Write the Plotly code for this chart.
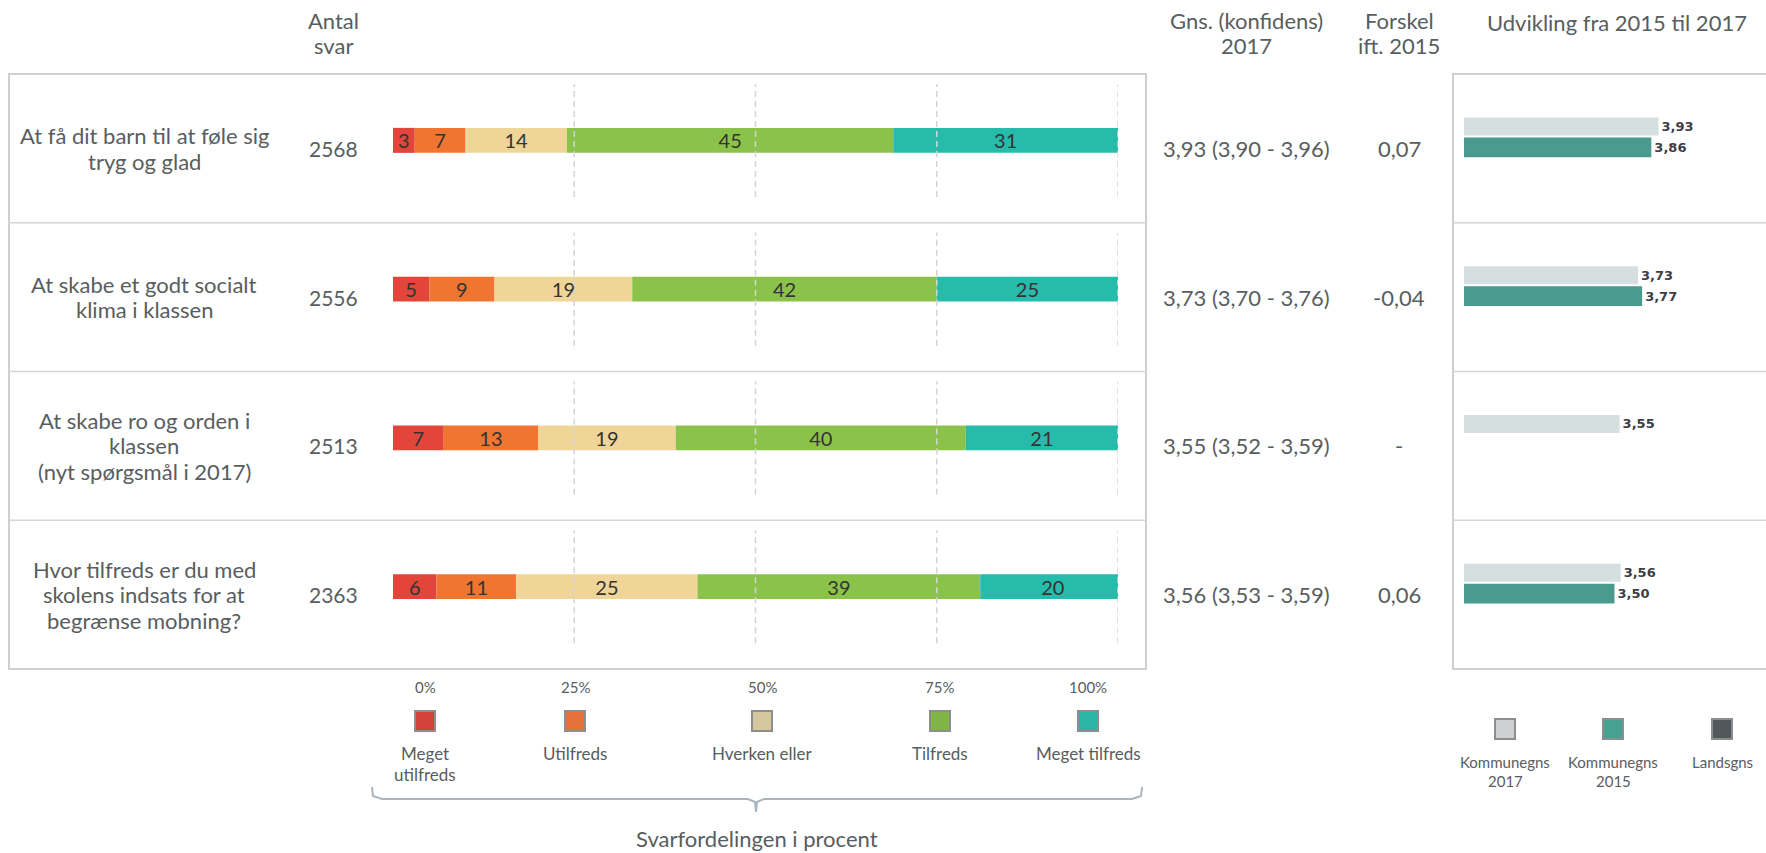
import plotly.graph_objects as go
import numpy as np

W, H = 1766, 853
FONT = "Lato"
TXT = "#585d60"

# ---------------- data ----------------
ROW_KEYS = ["q1", "q2", "q3", "q4"]
QUESTIONS = [
    ["At få dit barn til at føle sig", "tryg og glad"],
    ["At skabe et godt socialt", "klima i klassen"],
    ["At skabe ro og orden i", "klassen", "(nyt spørgsmål i 2017)"],
    ["Hvor tilfreds er du med", "skolens indsats for at", "begrænse mobning?"],
]
ANTAL_SVAR = [2568, 2556, 2513, 2363]

CATEGORIES = ["Meget utilfreds", "Utilfreds", "Hverken eller", "Tilfreds", "Meget tilfreds"]
CATEGORY_LABELS = [["Meget", "utilfreds"], ["Utilfreds"], ["Hverken eller"], ["Tilfreds"], ["Meget tilfreds"]]
PCT_MEGET_UTILFREDS = [3, 5, 7, 6]
PCT_UTILFREDS = [7, 9, 13, 11]
PCT_HVERKEN_ELLER = [14, 19, 19, 25]
PCT_TILFREDS = [45, 42, 40, 39]
PCT_MEGET_TILFREDS = [31, 25, 21, 20]

GNS_2017 = [3.93, 3.73, 3.55, 3.56]
CI_LOW = [3.90, 3.70, 3.52, 3.53]
CI_HIGH = [3.96, 3.76, 3.59, 3.59]
FORSKEL_2015 = [0.07, -0.04, None, 0.06]

KOMMUNEGNS_2017 = [3.93, 3.73, 3.55, 3.56]
KOMMUNEGNS_2015 = [3.86, 3.77, None, 3.50]

PCT_TICK_LABELS = ["0%", "25%", "50%", "75%", "100%"]
GRID_PCTS = [25, 50, 75, 100]
DEV_LEGEND = [["Kommunegns", "2017"], ["Kommunegns", "2015"], ["Landsgns"]]
HEADERS = [["Antal", "svar"], ["Gns. (konfidens)", "2017"], ["Forskel", "ift. 2015"]]

# ---------------- styles ----------------
SEG_COLORS = ["#e2463b", "#ef7531", "#efd698", "#8bc34a", "#27bbab"]
LEG_COLORS = ["#d2413a", "#e3733a", "#d6c89e", "#7fb547", "#2bb5a6"]
DEV_COLORS = ["#d5dfe0", "#4a9a8f", "#50585b"]
DEV_LEG_COLORS = ["#cdd0d0", "#46a192", "#50585b"]


def px(x):
    return x / W


def py(y):
    return 1 - y / H


def fmt(v):
    return f"{v:.2f}".replace(".", ",")


fig = go.Figure()

# ---------------- stacked distribution bars ----------------
series = [PCT_MEGET_UTILFREDS, PCT_UTILFREDS, PCT_HVERKEN_ELLER, PCT_TILFREDS, PCT_MEGET_TILFREDS]
arr = np.array(series, dtype=float)
bases = np.vstack([np.zeros(arr.shape[1]), np.cumsum(arr, axis=0)[:-1]])
for k, name in enumerate(CATEGORIES):
    fig.add_trace(go.Bar(
        y=ROW_KEYS, x=series[k], base=bases[k], orientation="h", name=name,
        marker=dict(color=SEG_COLORS[k], line=dict(width=0)),
        width=0.168,
        text=[str(v) for v in series[k]], textposition="inside",
        insidetextanchor="middle", constraintext="none", textangle=0,
        textfont=dict(family=FONT, size=20, color="#333333"),
        xaxis="x", yaxis="y", showlegend=False, hoverinfo="skip",
    ))

# ---------------- development bars ----------------
fig.add_trace(go.Bar(
    y=ROW_KEYS, x=KOMMUNEGNS_2017, orientation="h", name="Kommunegns 2017",
    marker=dict(color=DEV_COLORS[0], line=dict(width=0)),
    width=0.121, offset=-0.154,
    text=[fmt(v) for v in KOMMUNEGNS_2017], textposition="outside",
    constraintext="none", cliponaxis=False,
    textfont=dict(family="DejaVu Sans", size=13, color="#3d3d45", weight="bold"),
    xaxis="x2", yaxis="y2", showlegend=False, hoverinfo="skip",
))
fig.add_trace(go.Bar(
    y=ROW_KEYS, x=KOMMUNEGNS_2015, orientation="h", name="Kommunegns 2015",
    marker=dict(color=DEV_COLORS[1], line=dict(width=0)),
    width=0.134, offset=-0.020,
    text=["" if v is None else fmt(v) for v in KOMMUNEGNS_2015],
    textposition="outside", constraintext="none", cliponaxis=False,
    textfont=dict(family="DejaVu Sans", size=13, color="#3d3d45", weight="bold"),
    xaxis="x2", yaxis="y2", showlegend=False, hoverinfo="skip",
))

ydom = [py(661), py(66)]
fig.update_layout(
    width=W, height=H, autosize=False,
    margin=dict(l=0, r=0, t=0, b=0),
    paper_bgcolor="white", plot_bgcolor="rgba(0,0,0,0)",
    barmode="overlay",
    font=dict(family=FONT, color=TXT),
    xaxis=dict(domain=[px(393), px(1118)], range=[0, 100], visible=False, fixedrange=True),
    yaxis=dict(domain=ydom, categoryorder="array", categoryarray=ROW_KEYS,
               range=[3.5, -0.5], visible=False, fixedrange=True),
    xaxis2=dict(domain=[px(1464), 1.0], range=[2.03, 4.98], visible=False, anchor="y2", fixedrange=True),
    yaxis2=dict(domain=ydom, categoryorder="array", categoryarray=ROW_KEYS,
                range=[3.5, -0.5], visible=False, anchor="x2", fixedrange=True),
)

shapes = []
BORDER = "#cfcfcf"
box_top, box_bot = 74, 669
row_h = (box_bot - box_top) / 4

# boxes
shapes.append(dict(type="rect", xref="paper", yref="paper", x0=px(9), x1=px(1146),
                   y0=py(box_bot), y1=py(box_top), line=dict(color=BORDER, width=2)))
shapes.append(dict(type="rect", xref="paper", yref="paper", x0=px(1453), x1=px(1780),
                   y0=py(box_bot), y1=py(box_top), line=dict(color=BORDER, width=2)))
# row separators
for i in range(1, 4):
    yy = box_top + i * row_h
    for x0, x1 in [(9, 1146), (1453, 1780)]:
        shapes.append(dict(type="line", xref="paper", yref="paper", x0=px(x0), x1=px(x1),
                           y0=py(yy), y1=py(yy), line=dict(color="#d6d6d6", width=1.5)))
# dashed gridlines per row
for i in range(4):
    rt = box_top + i * row_h
    for g in GRID_PCTS:
        shapes.append(dict(type="line", xref="x", yref="paper", x0=g, x1=g,
                           y0=py(rt + 123), y1=py(rt + 10),
                           line=dict(color="#d4d4d4", width=1.5, dash="6px,4px")))

# legend squares (left)
LEG_X = [425, 575, 762, 940, 1088]
for k, cx in enumerate(LEG_X):
    shapes.append(dict(type="rect", xref="paper", yref="paper",
                       x0=px(cx - 10), x1=px(cx + 10), y0=py(731), y1=py(711),
                       fillcolor=LEG_COLORS[k], line=dict(color="#8d8d8d", width=2)))
# legend squares (right)
DEV_X = [1505, 1613, 1722]
for k, cx in enumerate(DEV_X):
    shapes.append(dict(type="rect", xref="paper", yref="paper",
                       x0=px(cx - 10), x1=px(cx + 10), y0=py(739), y1=py(719),
                       fillcolor=DEV_LEG_COLORS[k], line=dict(color="#8d8d8d", width=2)))

# brace
pts = [(372, 787), (373, 796), (382, 799), (748, 799), (755, 802), (756, 812),
       (757, 802), (764, 799), (1132, 799), (1141, 796), (1142, 787)]
path = "M " + " L ".join(f"{px(x):.5f},{py(y):.5f}" for x, y in pts)
shapes.append(dict(type="path", xref="paper", yref="paper", path=path,
                   line=dict(color="#a9b6bf", width=2)))

ann = []


def text(x, y, s, size=22, color=TXT, **kw):
    ann.append(dict(x=x, y=y, xref=kw.pop("xref", "paper"), yref=kw.pop("yref", "paper"),
                    text=s, showarrow=False, xanchor="center", yanchor="middle",
                    font=dict(family=FONT, size=size, color=color), **kw))


def lines(x, yc, parts, size, spacing, **kw):
    n = len(parts)
    for j, s in enumerate(parts):
        text(x, py(yc + (j - (n - 1) / 2) * spacing), s, size=size, **kw)


def row_lines(x, key, parts, size, spacing):
    n = len(parts)
    for j, s in enumerate(parts):
        off = (j - (n - 1) / 2) * spacing
        text(x, key, s, size=size, yref="y", yshift=-8 - off)


# headers
HEADER_X = [333, 1246, 1399]
for hx, h in zip(HEADER_X, HEADERS):
    lines(px(hx), 32.5, h, 22, 25)
text(px(1617), py(22), "Udvikling fra 2015 til 2017", size=22)

# rows
for i, key in enumerate(ROW_KEYS):
    row_lines(px(144), key, QUESTIONS[i], 22, 25.5)
    row_lines(px(333), key, [str(ANTAL_SVAR[i])], 21, 25)
    row_lines(px(1246), key, [f"{fmt(GNS_2017[i])} ({fmt(CI_LOW[i])} - {fmt(CI_HIGH[i])})"], 22, 25)
    f = FORSKEL_2015[i]
    row_lines(px(1399), key, ["-" if f is None else fmt(f)], 22, 25)

# percent labels + legend labels
for k, cx in enumerate(LEG_X):
    text(px(cx), py(687), PCT_TICK_LABELS[k], size=15)
    for j, s in enumerate(CATEGORY_LABELS[k]):
        text(px(cx), py(753 + j * 21), s, size=17)
for k, cx in enumerate(DEV_X):
    for j, s in enumerate(DEV_LEGEND[k]):
        text(px(cx), py(762 + j * 19), s, size=15)

text(px(757), py(838), "Svarfordelingen i procent", size=22)

fig.update_layout(shapes=shapes, annotations=ann)
fig.write_html("out.html", config={"displayModeBar": False},
               post_script="document.body.style.margin='0';document.body.style.overflow='hidden';")
